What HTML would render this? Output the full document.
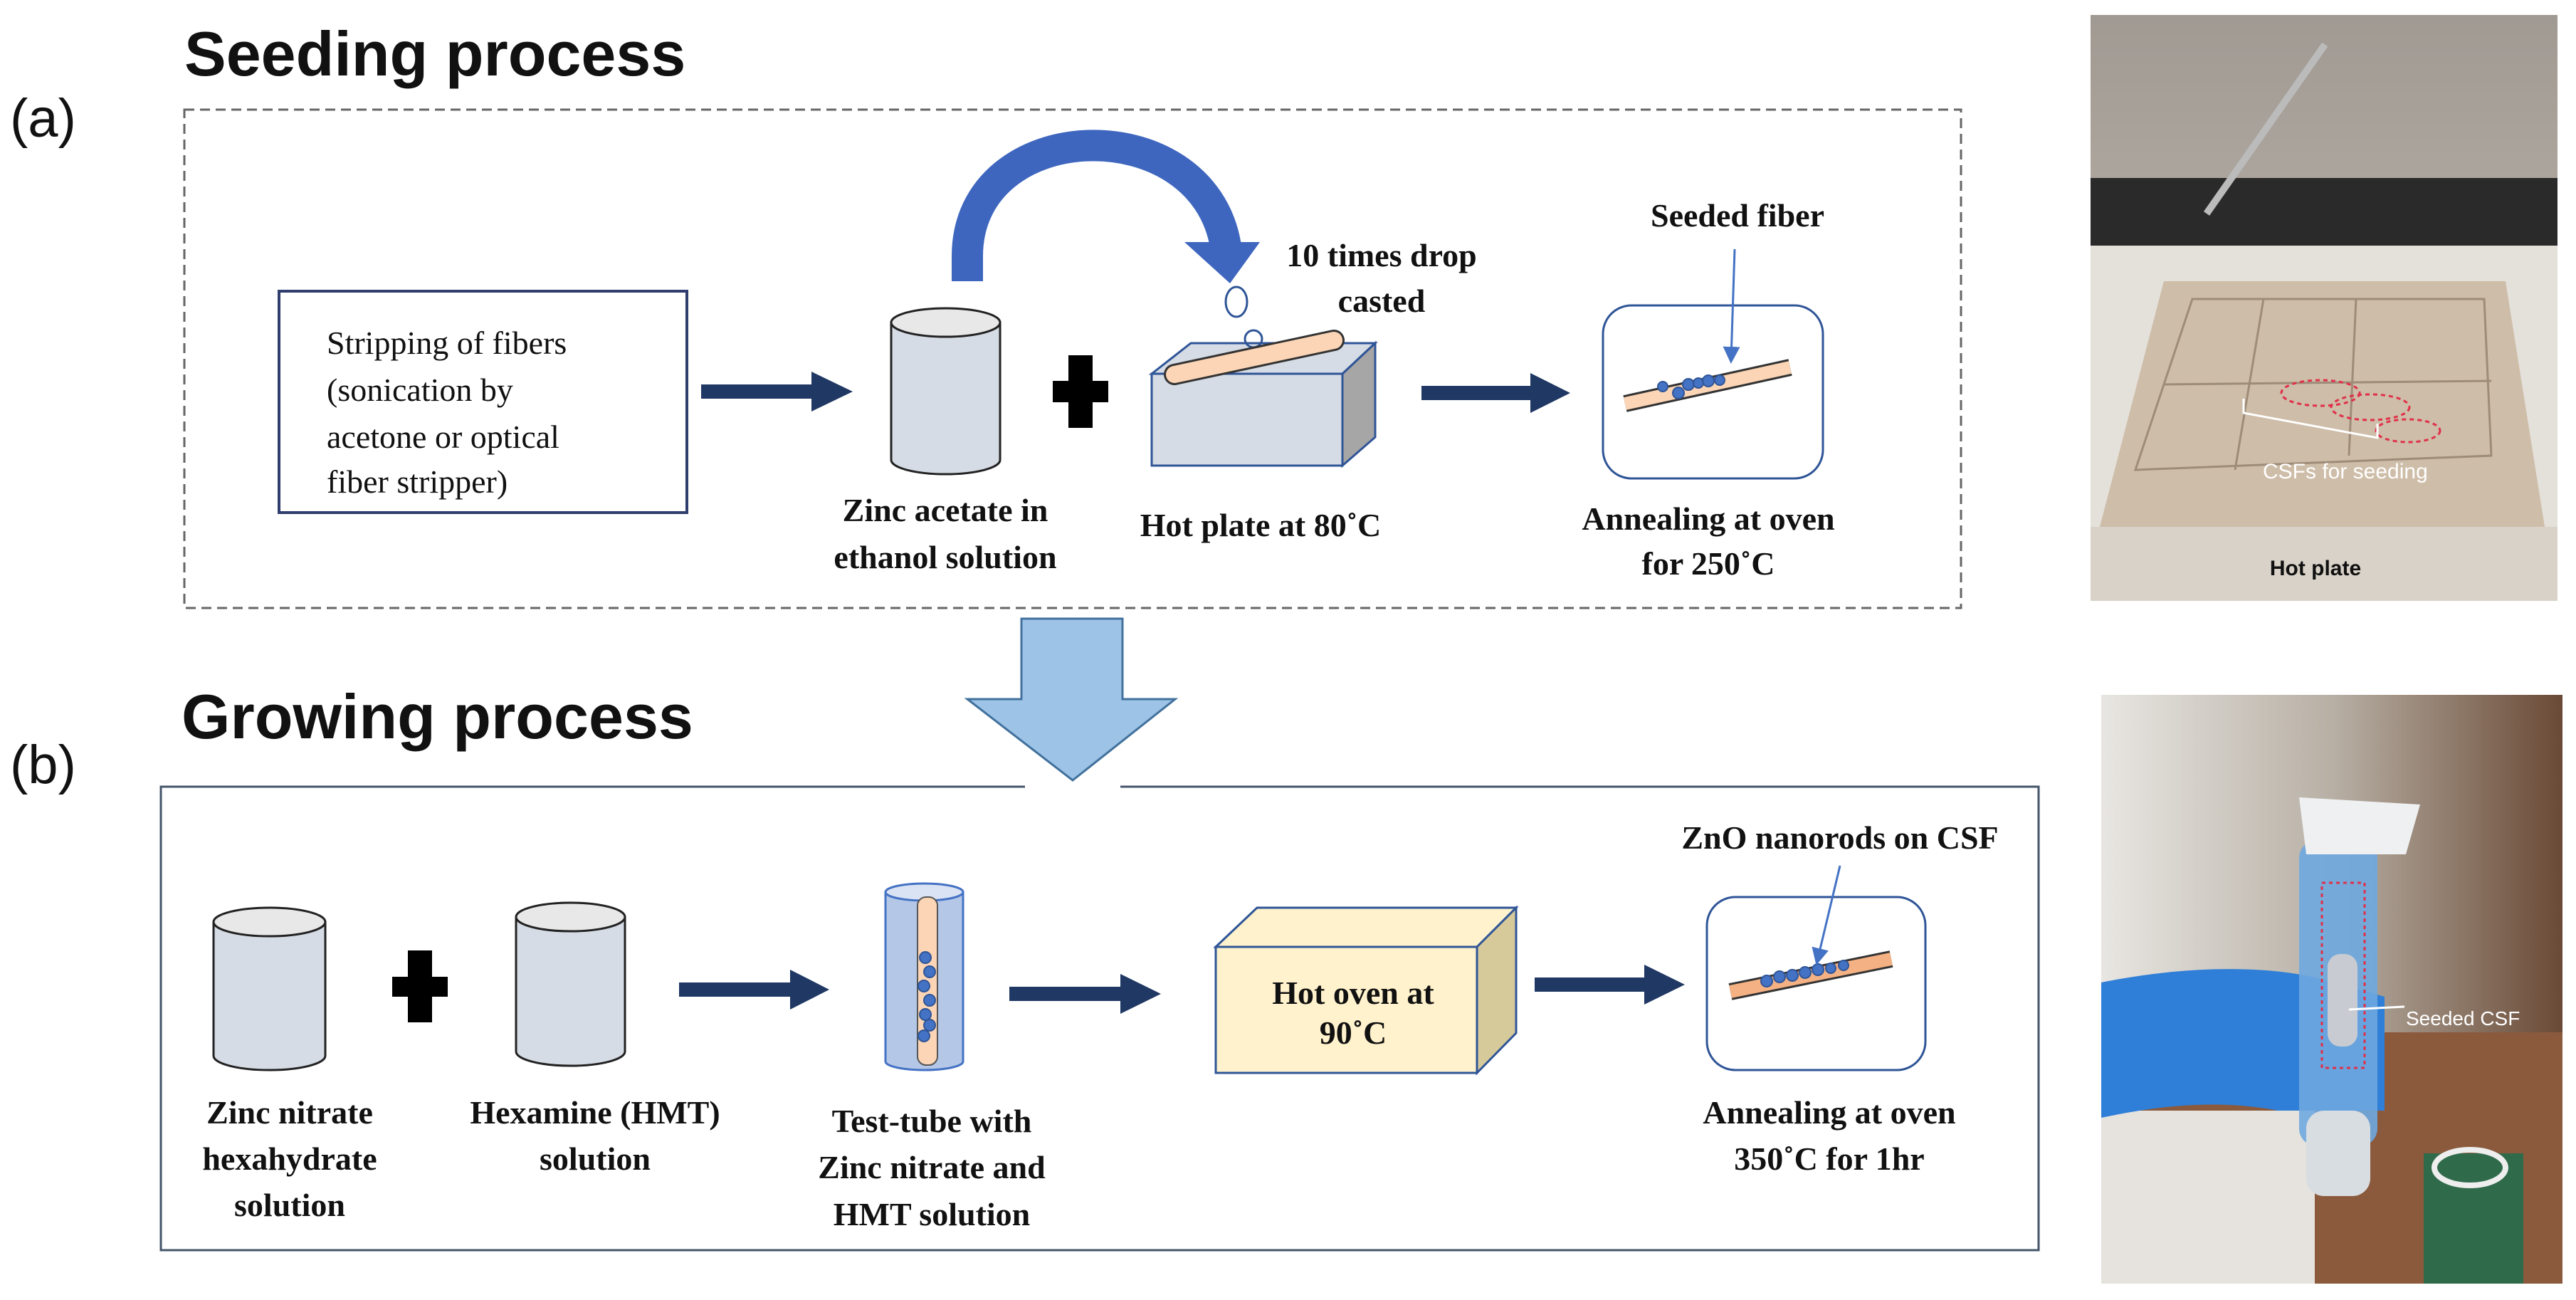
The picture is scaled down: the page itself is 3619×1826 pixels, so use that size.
<!DOCTYPE html>
<html><head><meta charset="utf-8"><style>
html,body{margin:0;padding:0;background:#fff;}
svg{display:block;}
.serif{font-family:"Liberation Serif",serif;font-weight:bold;}
</style></head><body>
<svg width="3619" height="1826" viewBox="0 0 3619 1826" xmlns="http://www.w3.org/2000/svg">
<defs>
<marker id="ah" markerWidth="8" markerHeight="8" refX="6" refY="4" orient="auto" markerUnits="strokeWidth"><path d="M0,0 L8,4 L0,8 z" fill="#4472c4"/></marker>
<linearGradient id="wall" x1="0" y1="0" x2="0" y2="1"><stop offset="0" stop-color="#a09a93"/><stop offset="1" stop-color="#c9c2b8"/></linearGradient>
<linearGradient id="bg2" x1="0" y1="0" x2="1" y2="0"><stop offset="0" stop-color="#e8e6e2"/><stop offset="0.5" stop-color="#b8b0a5"/><stop offset="1" stop-color="#6a4a36"/></linearGradient>
</defs>

<!-- Titles -->
<text x="259" y="106" font-family="Liberation Sans, sans-serif" font-weight="bold" font-size="88" fill="#111">Seeding process</text>
<text x="14" y="192" font-family="Liberation Sans, sans-serif" font-size="76" fill="#111">(a)</text>
<text x="255" y="1037" font-family="Liberation Sans, sans-serif" font-weight="bold" font-size="88" fill="#111">Growing process</text>
<text x="14" y="1100" font-family="Liberation Sans, sans-serif" font-size="76" fill="#111">(b)</text>

<!-- Dashed box -->
<rect x="259" y="154" width="2496" height="700" fill="none" stroke="#666" stroke-width="3" stroke-dasharray="14,8"/>

<!-- Stripping box -->
<rect x="392" y="409" width="573" height="311" fill="#fff" stroke="#2f3e6e" stroke-width="4"/>
<g font-family="Liberation Serif, serif" font-size="46" fill="#111">
<text x="459" y="497">Stripping of fibers</text>
<text x="459" y="563">(sonication by</text>
<text x="459" y="629">acetone or optical</text>
<text x="459" y="692">fiber stripper)</text>
</g>

<!-- arrow 1 -->
<path d="M985 540 H1140 V522 L1198 550 L1140 578 V560 H985 Z" fill="#203864"/>

<!-- cylinder 1 -->
<path d="M1252 453 V646 A76.5 20 0 0 0 1405 646 V453 Z" fill="#d6dce5" stroke="#222" stroke-width="3"/>
<ellipse cx="1328.5" cy="453" rx="76.5" ry="20" fill="#e8e8e8" stroke="#222" stroke-width="3"/>

<!-- plus -->
<rect x="1501" y="499" width="34" height="102" fill="#000"/>
<rect x="1479" y="535" width="78" height="30" fill="#000"/>

<!-- curved arrow -->
<path d="M1359 395 L1359 360 C1359 160, 1690 150, 1722 346" fill="none" stroke="#3e66bf" stroke-width="44"/>
<path d="M1664 340 L1770 340 L1728 398 Z" fill="#3e66bf"/>

<!-- droplet -->
<ellipse cx="1737" cy="424" rx="15" ry="21" fill="#fff" stroke="#2f5597" stroke-width="3"/>

<!-- hot plate box -->
<path d="M1618 525 L1673 482 L1932 482 L1886 525 Z" fill="#d6dce5" stroke="#2f5597" stroke-width="3"/>
<path d="M1886 525 L1932 482 L1932 614 L1886 654 Z" fill="#a6a6a6" stroke="#2f5597" stroke-width="3"/>
<rect x="1618" y="525" width="268" height="129" fill="#d6dce5" stroke="#2f5597" stroke-width="3"/>
<circle cx="1761" cy="476" r="12" fill="none" stroke="#2f5597" stroke-width="3"/>
<line x1="1650" y1="526" x2="1874" y2="478" stroke="#333" stroke-width="30" stroke-linecap="round"/>
<line x1="1650" y1="526" x2="1874" y2="478" stroke="#fbd5b5" stroke-width="24" stroke-linecap="round"/>

<g class="serif" font-size="46" fill="#111" text-anchor="middle">
<text x="1941" y="374">10 times drop</text>
<text x="1941" y="438">casted</text>
<text x="1328" y="732">Zinc acetate in</text>
<text x="1328" y="798">ethanol solution</text>
<text x="1771" y="753">Hot plate at 80˚C</text>
<text x="2400" y="744">Annealing at oven</text>
<text x="2400" y="807">for 250˚C</text>
<text x="2441" y="318">Seeded fiber</text>
</g>

<!-- arrow 2 -->
<path d="M1997 542 H2150 V524 L2206 552 L2150 580 V562 H1997 Z" fill="#203864"/>

<!-- rounded box 3 -->
<rect x="2252" y="429" width="309" height="243" rx="40" fill="#fff" stroke="#2f5597" stroke-width="3"/>
<line x1="2283" y1="567" x2="2515" y2="516" stroke="#333" stroke-width="24" stroke-linecap="butt"/>
<line x1="2283" y1="567" x2="2515" y2="516" stroke="#fbd5b5" stroke-width="18"/>
<g fill="#4472c4" stroke="#2f5597" stroke-width="2">
<circle cx="2336" cy="543" r="7"/><circle cx="2358" cy="552" r="8"/><circle cx="2372" cy="540" r="8"/><circle cx="2386" cy="538" r="7"/><circle cx="2400" cy="535" r="8"/><circle cx="2416" cy="534" r="7"/>
</g>
<line x1="2437" y1="350" x2="2432" y2="505" stroke="#4472c4" stroke-width="3" marker-end="url(#ah)"/>

<!-- big down arrow -->
<path d="M1435 869 H1577 V982 H1651 L1507 1096 L1359 982 H1435 Z" fill="#9dc3e6" stroke="#41719c" stroke-width="3"/>

<!-- solid box -->
<rect x="226" y="1105" width="2638" height="651" fill="none" stroke="#44546a" stroke-width="3"/>
<rect x="1440" y="1103" width="134" height="4" fill="#fff"/>

<!-- cyl A -->
<path d="M300 1295 V1483 A78.5 20 0 0 0 457 1483 V1295 Z" fill="#d6dce5" stroke="#222" stroke-width="3"/>
<ellipse cx="378.5" cy="1295" rx="78.5" ry="20" fill="#e8e8e8" stroke="#222" stroke-width="3"/>
<!-- plus -->
<rect x="573" y="1335" width="34" height="101" fill="#000"/>
<rect x="551" y="1372" width="78" height="28" fill="#000"/>
<!-- cyl B -->
<path d="M725 1288 V1477 A76.5 20 0 0 0 878 1477 V1288 Z" fill="#d6dce5" stroke="#222" stroke-width="3"/>
<ellipse cx="801.5" cy="1288" rx="76.5" ry="20" fill="#e8e8e8" stroke="#222" stroke-width="3"/>

<path d="M954 1380 H1110 V1362 L1165 1390 L1110 1418 V1400 H954 Z" fill="#203864"/>

<!-- test tube -->
<path d="M1244 1253 V1491 A54.5 12 0 0 0 1353 1491 V1253 Z" fill="#b4c7e7" stroke="#4472c4" stroke-width="3"/>
<ellipse cx="1298.5" cy="1253" rx="54.5" ry="12" fill="#dae3f3" stroke="#4472c4" stroke-width="3"/>
<rect x="1289" y="1260" width="28" height="236" rx="12" fill="#fbd5b5" stroke="#555" stroke-width="2"/>
<g fill="#4472c4" stroke="#2f5597" stroke-width="2">
<circle cx="1300" cy="1345" r="8"/><circle cx="1306" cy="1365" r="8"/><circle cx="1298" cy="1385" r="8"/><circle cx="1306" cy="1405" r="8"/><circle cx="1300" cy="1425" r="8"/><circle cx="1306" cy="1440" r="8"/><circle cx="1298" cy="1455" r="8"/>
</g>

<path d="M1418 1386 H1574 V1368 L1631 1396 L1574 1424 V1406 H1418 Z" fill="#203864"/>

<!-- oven -->
<path d="M1708 1330 L1766 1275 L2130 1275 L2075 1330 Z" fill="#fff2cc" stroke="#2f5597" stroke-width="3"/>
<path d="M2075 1330 L2130 1275 L2130 1451 L2075 1507 Z" fill="#d6c99a" stroke="#2f5597" stroke-width="3"/>
<rect x="1708" y="1330" width="367" height="177" fill="#fff2cc" stroke="#2f5597" stroke-width="3"/>

<path d="M2156 1373 H2310 V1355 L2367 1383 L2310 1411 V1393 H2156 Z" fill="#203864"/>

<!-- rounded box b -->
<rect x="2398" y="1260" width="307" height="243" rx="40" fill="#fff" stroke="#2f5597" stroke-width="3"/>
<line x1="2431" y1="1393" x2="2657" y2="1347" stroke="#333" stroke-width="24"/>
<line x1="2431" y1="1393" x2="2657" y2="1347" stroke="#f4b183" stroke-width="18"/>
<g fill="#4472c4" stroke="#2f5597" stroke-width="2">
<circle cx="2482" cy="1378" r="8"/><circle cx="2500" cy="1372" r="8"/><circle cx="2518" cy="1370" r="8"/><circle cx="2536" cy="1366" r="8"/><circle cx="2554" cy="1362" r="8"/><circle cx="2572" cy="1360" r="7"/><circle cx="2590" cy="1356" r="7"/>
</g>
<line x1="2585" y1="1216" x2="2553" y2="1350" stroke="#4472c4" stroke-width="3" marker-end="url(#ah)"/>

<g class="serif" font-size="46" fill="#111" text-anchor="middle">
<text x="407" y="1578">Zinc nitrate</text>
<text x="407" y="1643">hexahydrate</text>
<text x="407" y="1708">solution</text>
<text x="836" y="1578">Hexamine (HMT)</text>
<text x="836" y="1643">solution</text>
<text x="1309" y="1590">Test-tube with</text>
<text x="1309" y="1655">Zinc nitrate and</text>
<text x="1309" y="1721">HMT solution</text>
<text x="1901" y="1410">Hot oven at</text>
<text x="1901" y="1466">90˚C</text>
<text x="2585" y="1192">ZnO nanorods on CSF</text>
<text x="2570" y="1578">Annealing at oven</text>
<text x="2570" y="1643">350˚C for 1hr</text>
</g>

<!-- Photo 1 -->
<g>
<rect x="2937" y="21" width="656" height="823" fill="url(#wall)"/>
<rect x="2937" y="250" width="656" height="100" fill="#2a2a2a"/>
<path d="M2937 345 L3593 345 L3593 844 L2937 844 Z" fill="#e4e0da"/>
<path d="M3040 395 L3520 395 L3575 740 L2950 740 Z" fill="#cbb9a2" opacity="0.9"/>
<path d="M3080 420 L3490 420 L3500 640 L3000 660 Z" fill="none" stroke="#9e8c78" stroke-width="3"/>
<line x1="3180" y1="420" x2="3140" y2="660" stroke="#9e8c78" stroke-width="3"/>
<line x1="3310" y1="420" x2="3300" y2="640" stroke="#9e8c78" stroke-width="3"/>
<line x1="3040" y1="540" x2="3500" y2="535" stroke="#9e8c78" stroke-width="3"/>
<path d="M2937 740 L3593 740 L3593 844 L2937 844 Z" fill="#d8d2c8"/>
<line x1="3100" y1="10" x2="3100" y2="300" stroke="#bbb" stroke-width="10" transform="rotate(35 3100 300)"/>
<g fill="none" stroke="#e0304a" stroke-width="3" stroke-dasharray="6,5">
<ellipse cx="3260" cy="552" rx="55" ry="18"/><ellipse cx="3330" cy="572" rx="55" ry="18"/><ellipse cx="3383" cy="605" rx="45" ry="16"/>
</g>
<path d="M3152 560 L3152 580 L3340 615 L3340 595" fill="none" stroke="#fff" stroke-width="3"/>
<text x="3179" y="672" font-family="Liberation Sans, sans-serif" font-size="30" fill="#fff">CSFs for seeding</text>
<text x="3253" y="808" font-family="Liberation Sans, sans-serif" font-weight="bold" font-size="30" fill="#111" text-anchor="middle">Hot plate</text>
</g>

<!-- Photo 2 -->
<g>
<rect x="2952" y="976" width="648" height="827" fill="url(#bg2)"/>
<rect x="2952" y="1450" width="648" height="353" fill="#8b5a3c"/>
<rect x="2952" y="1560" width="300" height="243" fill="#e6e3de"/>
<rect x="3405" y="1620" width="140" height="183" fill="#2f6b4a"/>
<ellipse cx="3470" cy="1640" rx="50" ry="25" fill="none" stroke="#eee" stroke-width="8"/>
<path d="M2952 1380 C3050 1360 3180 1350 3280 1380 L3350 1400 L3350 1560 L3200 1560 C3100 1540 3000 1560 2952 1570 Z" fill="#2f7fd8"/>
<rect x="3230" y="1180" width="110" height="430" rx="25" fill="#6ea8e0" opacity="0.9"/>
<rect x="3240" y="1560" width="90" height="120" rx="25" fill="#d8dde2"/>
<path d="M3230 1120 L3400 1130 L3380 1200 L3240 1200 Z" fill="#eef0f2"/>
<rect x="3270" y="1340" width="42" height="130" rx="18" fill="#c8ccd2"/>
<rect x="3262" y="1240" width="60" height="260" fill="none" stroke="#e0304a" stroke-width="3" stroke-dasharray="5,5"/>
<line x1="3300" y1="1418" x2="3378" y2="1414" stroke="#fff" stroke-width="3"/>
<text x="3380" y="1440" font-family="Liberation Sans, sans-serif" font-size="28" fill="#fff">Seeded CSF</text>
</g>
</svg>
</body></html>
